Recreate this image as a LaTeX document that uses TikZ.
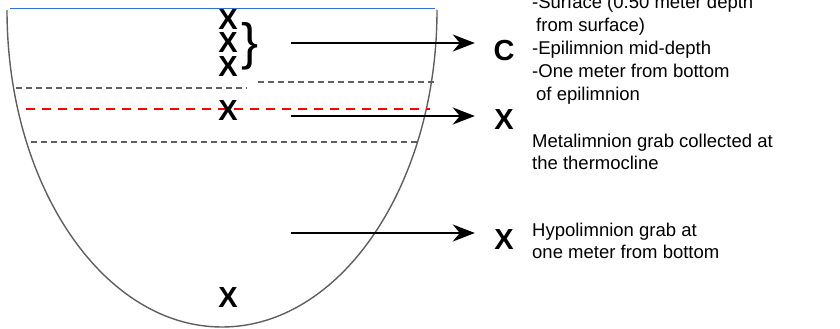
\documentclass[tikz,border=0pt]{standalone}
\usepackage{fontspec}
\setmainfont{Liberation Sans}
\usetikzlibrary{arrows.meta}
\definecolor{surfaceblue}{RGB}{47,111,216}
\definecolor{basingray}{RGB}{95,95,95}
\definecolor{clinered}{RGB}{255,0,0}
\begin{document}
\begin{tikzpicture}[x=1pt, y=-1pt,
            site/.style={font=\fontsize{29}{29}\selectfont\bfseries, inner sep=0pt, minimum width=21pt},
            note/.style={font=\fontsize{18.5}{22.5}\selectfont, align=left, anchor=base west, inner sep=0pt},
            layer/.style={draw=basingray, line width=2pt, dash pattern=on 6pt off 4pt},
            arrow/.style={-{Stealth[length=22pt, width=17pt, inset=7pt]}, line width=2pt, shorten >=18.5pt}
        ]
            \useasboundingbox (0,0) rectangle (840,329);

            % lake basin
            \draw[surfaceblue, line width=1pt] (10,9) -- (435,9);
            \draw[basingray, line width=1.4pt] (7,10) arc[start angle=180, end angle=0, x radius=215, y radius=317];

            % layer boundaries
            \draw[layer] (16,87.7) -- (247,87.7);
            \draw[layer] (258,82.3) -- (437,82.3);
            \draw[draw=clinered, line width=2.7pt, dash pattern=on 9pt off 7pt] (26,109) -- (430,109);
            \draw[layer] (31,142) -- (417,142);

            % sampling points
            \node[site] (x1) at (228,19.5) {X};
            \node[site] (x2) at (228,43) {X};
            \node[site] (x3) at (228,67) {X};
            \node[site] (x4) at (228,111) {X};
            \node[site] (x5) at (228,298) {X};
            \node[inner sep=0pt, font=\fontsize{51}{51}\selectfont] (br) at (250,46) {\}};

            % samples
            \node[site] (lc) at (504,51) {C};
            \node[site] (lm) at (504,120) {X};
            \node[site] (lh) at (504,240) {X};

            \coordinate (s1) at (291,43);
            \coordinate (s2) at (291,116);
            \coordinate (s3) at (291,233);
            \draw[arrow] (s1) -- (s1 -| lc.west);
            \draw[arrow] (s2) -- (s2 -| lm.west);
            \draw[arrow] (s3) -- (s3 -| lh.west);

            % base of a multi-line note = baseline of its last line
            \node[note, font=\fontsize{18.5}{23}\selectfont] (t1) at (532,100.5) {-Surface (0.50 meter depth\\\hspace*{4pt}from surface)\\-Epilimnion mid-depth\\-One meter from bottom\\\hspace*{4pt}of epilimnion};
            \node[note] (t2) at (532,169.5) {Metalimnion grab collected at\\the thermocline};
            \node[note] (t3) at (532,258.5) {Hypolimnion grab at\\one meter from bottom};

        \end{tikzpicture}
\end{document}
